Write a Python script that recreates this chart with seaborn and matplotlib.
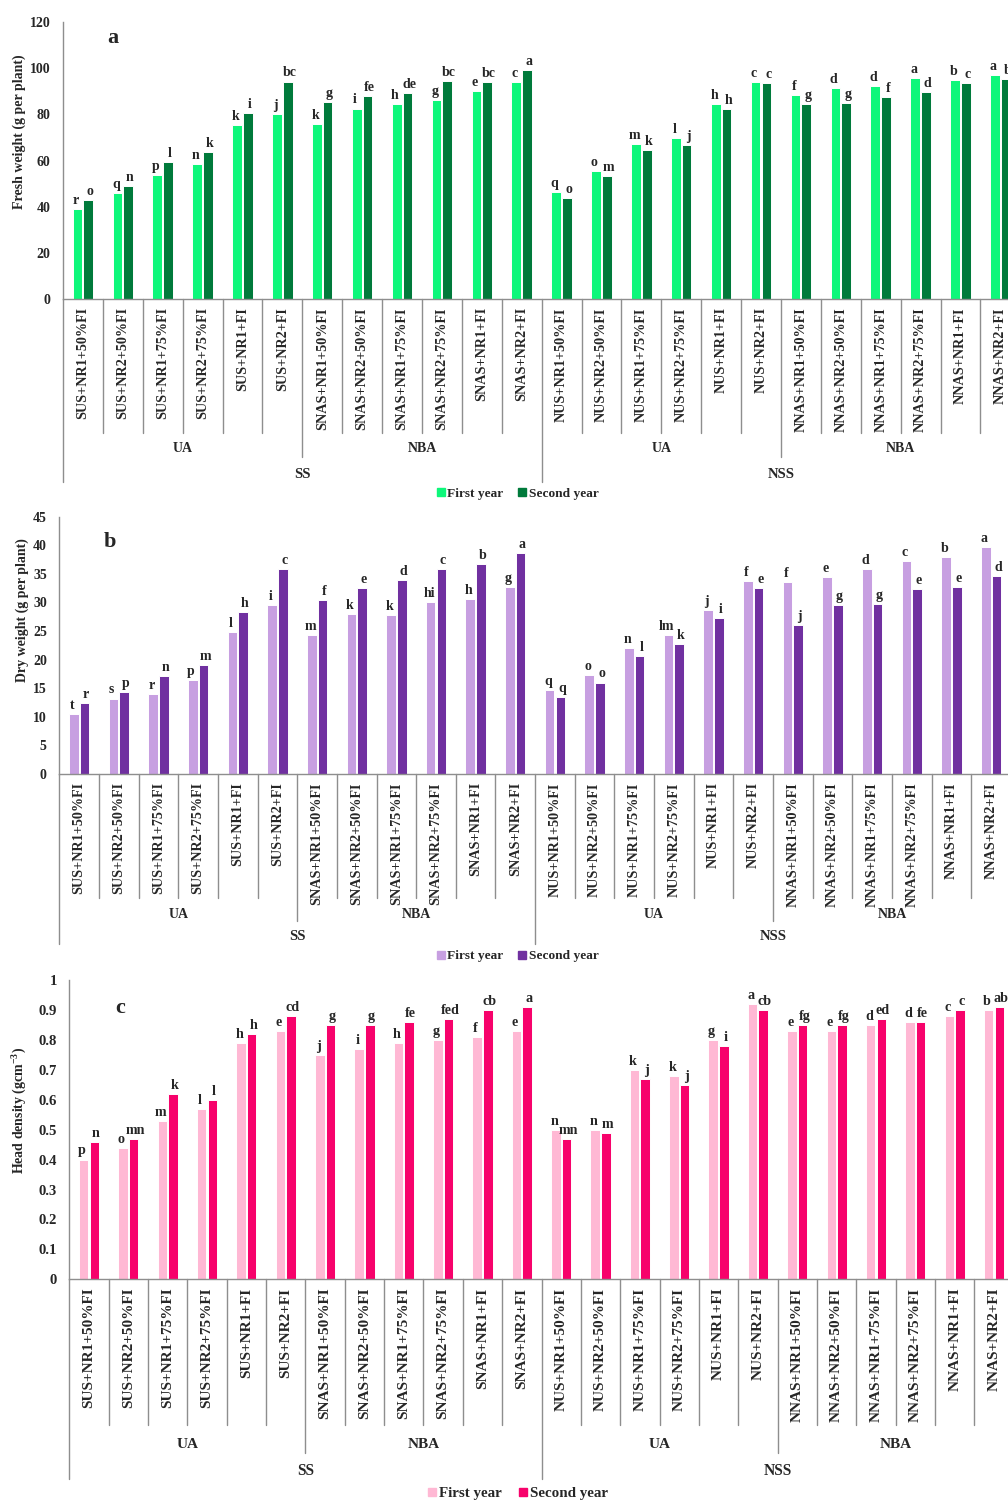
import numpy as np
import pandas as pd
import matplotlib
matplotlib.use("Agg")
import matplotlib.pyplot as plt
import seaborn as sns
from matplotlib.lines import Line2D
from matplotlib.transforms import blended_transform_factory
from matplotlib.ticker import FuncFormatter

sns.set_style("white")
plt.rcParams["font.family"] = ["Liberation Serif", "DejaVu Serif"]
plt.rcParams["font.weight"] = "bold"
plt.rcParams["mathtext.fontset"] = "custom"
plt.rcParams["mathtext.rm"] = "Liberation Serif:bold"
plt.rcParams["mathtext.it"] = "Liberation Serif:bold"
plt.rcParams["mathtext.bf"] = "Liberation Serif:bold"

# ---------------- data ----------------
treatments = [
    "SUS+NR1+50%FI", "SUS+NR2+50%FI", "SUS+NR1+75%FI", "SUS+NR2+75%FI", "SUS+NR1+FI", "SUS+NR2+FI",
    "SNAS+NR1+50%FI", "SNAS+NR2+50%FI", "SNAS+NR1+75%FI", "SNAS+NR2+75%FI", "SNAS+NR1+FI", "SNAS+NR2+FI",
    "NUS+NR1+50%FI", "NUS+NR2+50%FI", "NUS+NR1+75%FI", "NUS+NR2+75%FI", "NUS+NR1+FI", "NUS+NR2+FI",
    "NNAS+NR1+50%FI", "NNAS+NR2+50%FI", "NNAS+NR1+75%FI", "NNAS+NR2+75%FI", "NNAS+NR1+FI", "NNAS+NR2+FI",
]
years = ["First year", "Second year"]
sub_groups = ["UA", "NBA", "UA", "NBA"]
main_groups = ["SS", "NSS"]

fresh_first = [38.8, 45.9, 53.7, 58.6, 75.3, 80.0, 75.9, 82.5, 84.4, 86.1, 90.2, 93.8,
               46.2, 55.5, 67.0, 69.7, 84.3, 93.9, 88.4, 91.2, 92.2, 95.7, 94.8, 97.0]
fresh_second = [42.9, 49.0, 59.2, 63.8, 80.5, 94.2, 85.3, 87.9, 89.2, 94.4, 94.1, 99.1,
                43.9, 53.2, 64.6, 66.5, 82.4, 93.5, 84.4, 84.7, 87.6, 89.6, 93.6, 95.4]
fresh_first_letters = ["r", "q", "p", "n", "k", "j", "k", "i", "h", "g", "e", "c",
                       "q", "o", "m", "l", "h", "c", "f", "d", "d", "a", "b", "a"]
fresh_second_letters = ["o", "n", "l", "k", "i", "bc", "g", "fe", "de", "bc", "bc", "a",
                        "o", "m", "k", "j", "h", "c", "g", "g", "f", "d", "c", "b"]

dry_first = [10.5, 13.2, 14.0, 16.4, 24.8, 29.5, 24.3, 28.0, 27.8, 30.1, 30.6, 32.7,
             14.7, 17.3, 22.1, 24.3, 28.6, 33.7, 33.6, 34.5, 35.8, 37.2, 38.0, 39.7]
dry_second = [12.4, 14.4, 17.1, 19.1, 28.3, 35.8, 30.5, 32.5, 33.9, 35.8, 36.7, 38.6,
              13.5, 16.0, 20.7, 22.7, 27.2, 32.6, 26.0, 29.5, 29.7, 32.3, 32.7, 34.6]
dry_first_letters = ["t", "s", "r", "p", "l", "i", "m", "k", "k", "hi", "h", "g",
                     "q", "o", "n", "lm", "j", "f", "f", "e", "d", "c", "b", "a"]
dry_second_letters = ["r", "p", "n", "m", "h", "c", "f", "e", "d", "c", "b", "a",
                      "q", "o", "l", "k", "i", "e", "j", "g", "g", "e", "e", "d"]

dens_first = [0.40, 0.44, 0.53, 0.57, 0.79, 0.83, 0.75, 0.77, 0.79, 0.80, 0.81, 0.83,
              0.50, 0.50, 0.70, 0.68, 0.80, 0.92, 0.83, 0.83, 0.85, 0.86, 0.88, 0.90]
dens_second = [0.46, 0.47, 0.62, 0.60, 0.82, 0.88, 0.85, 0.85, 0.86, 0.87, 0.90, 0.91,
               0.47, 0.49, 0.67, 0.65, 0.78, 0.90, 0.85, 0.85, 0.87, 0.86, 0.90, 0.91]
dens_first_letters = ["p", "o", "m", "l", "h", "e", "j", "i", "h", "g", "f", "e",
                      "n", "n", "k", "k", "g", "a", "e", "e", "d", "d", "c", "b"]
dens_second_letters = ["n", "mn", "k", "l", "h", "cd", "g", "g", "fe", "fed", "cb", "a",
                       "mn", "m", "j", "j", "i", "cb", "fg", "fg", "ed", "fe", "c", "ab"]

# ---------------- layout (pixels) ----------------
W, H = 1008, 1502
GRAY = "#8E8E8E"
fig = plt.figure(figsize=(W / 100, H / 100), dpi=100)
fig.patch.set_facecolor("white")


def fy(px):
    return 1 - px / H


panels = [
    dict(left=63, right=1020.3, top=22, bottom=299, ymax=120, step=20,
         first=fresh_first, second=fresh_second, l1=fresh_first_letters, l2=fresh_second_letters,
         colors=["#0DF77A", "#007A3B"], ylabel="Fresh weight (g per plant)", ylab_xy=(19, 132),
         tag="a", tag_xy=(113, 38), tick_fs=10, cat_fs=10.2, let_fs=10, grp_fs=10, main_fs=10.5,
         inner=433, mid=457, outer=482, grp_y=449, main_y=474, leg_y=494, leg_fs=9.6),
    dict(left=59.3, right=1011, top=516.7, bottom=774, ymax=45, step=5,
         first=dry_first, second=dry_second, l1=dry_first_letters, l2=dry_second_letters,
         colors=["#C79FE1", "#7030A0"], ylabel="Dry weight (g per plant)", ylab_xy=(22, 610),
         tag="b", tag_xy=(110, 542), tick_fs=10, cat_fs=10.2, let_fs=10, grp_fs=10, main_fs=10.5,
         inner=898, mid=921, outer=944, grp_y=914, main_y=937, leg_y=956, leg_fs=9.6),
    dict(left=69.3, right=1013.7, top=980, bottom=1279.3, ymax=1.0, step=0.1,
         first=dens_first, second=dens_second, l1=dens_first_letters, l2=dens_second_letters,
         colors=["#FFB8D4", "#F7026B"], ylabel="Head density (gcm$^{-3}$)", ylab_xy=(20, 1110),
         tag="c", tag_xy=(120, 1008), tick_fs=10.6, cat_fs=11, let_fs=10.2, grp_fs=11, main_fs=11.2,
         inner=1425, mid=1453, outer=1479, grp_y=1444, main_y=1471, leg_y=1493, leg_fs=10.8),
]

for p in panels:
    ax = fig.add_axes([p["left"] / W, fy(p["bottom"]), (p["right"] - p["left"]) / W,
                       (p["bottom"] - p["top"]) / H])
    df = pd.DataFrame({
        "treatment": treatments * 2,
        "year": [years[0]] * len(treatments) + [years[1]] * len(treatments),
        "value": list(p["first"]) + list(p["second"]),
    })
    sns.barplot(data=df, x="treatment", y="value", hue="year", order=treatments,
                hue_order=years, palette=p["colors"], saturation=1, width=0.54, gap=0.1,
                edgecolor="white", linewidth=0.7, errorbar=None, legend=False, ax=ax)

    # significance letters above each bar, nudged apart so pairs stay readable
    for container, labels, dx in zip(ax.containers, [p["l1"], p["l2"]], [-1.2, 1.2]):
        for bar, txt in zip(container, labels):
            ax.annotate(txt, (bar.get_x() + bar.get_width() / 2, bar.get_height()),
                        xytext=(dx, 1.5), textcoords="offset points", ha="center", va="bottom",
                        fontsize=p["let_fs"], fontweight="bold", annotation_clip=False)

    ax.set_xlim(-0.5, len(treatments) - 0.5)
    ax.set_ylim(0, p["ymax"])
    ax.set_yticks(np.arange(0, p["ymax"] + p["step"] / 2, p["step"]))
    ax.yaxis.set_major_formatter(FuncFormatter(lambda v, _: f"{round(v, 2):g}"))
    ax.set_xlabel("")
    ax.set_ylabel("")
    ax.set_xticks(range(len(treatments)))
    ax.set_xticklabels(treatments, rotation=90, fontsize=p["cat_fs"], fontweight="bold", va="top")
    ax.tick_params(axis="x", length=0, pad=6)
    ax.tick_params(axis="y", direction="out", length=5, width=1, color=GRAY,
                   labelsize=p["tick_fs"], pad=4)
    for lab in ax.get_yticklabels():
        lab.set_fontweight("bold")
    for side in ("top", "right"):
        ax.spines[side].set_visible(False)
    for side in ("left", "bottom"):
        ax.spines[side].set_color(GRAY)
        ax.spines[side].set_linewidth(1)

    # hierarchical category dividers and group labels
    trans = blended_transform_factory(ax.transData, fig.transFigure)
    for k in range(len(treatments) + 1):
        end = p["inner"]
        if k % 6 == 0:
            end = p["mid"]
        if k % 12 == 0:
            end = p["outer"]
        ax.add_line(Line2D([k - 0.5, k - 0.5], [fy(p["bottom"]), fy(end)], transform=trans,
                           color=GRAY, lw=1, clip_on=False))
    for i, g in enumerate(sub_groups):
        ax.text(6 * i + 2.5, fy(p["grp_y"]), g, transform=trans, ha="center", va="center",
                fontsize=p["grp_fs"], fontweight="bold")
    for i, g in enumerate(main_groups):
        ax.text(12 * i + 5.5, fy(p["main_y"]), g, transform=trans, ha="center", va="center",
                fontsize=p["main_fs"], fontweight="bold")

    fig.text(p["ylab_xy"][0] / W, fy(p["ylab_xy"][1]), p["ylabel"], rotation=90,
             ha="center", va="center", fontsize=10, fontweight="bold")
    fig.text(p["tag_xy"][0] / W, fy(p["tag_xy"][1]), p["tag"], ha="center", va="center",
             fontsize=16, fontweight="bold")

    handles = [Line2D([], [], marker="s", ls="none", color=c, markersize=6) for c in p["colors"]]
    fig.legend(handles, years, loc="center", bbox_to_anchor=(517 / W, fy(p["leg_y"])), ncol=2,
               frameon=False, handletextpad=0.1, columnspacing=1.0, handlelength=0.8,
               borderaxespad=0, prop=dict(size=p["leg_fs"], weight="bold"))

fig.savefig("out.png", dpi=100, facecolor="white")
